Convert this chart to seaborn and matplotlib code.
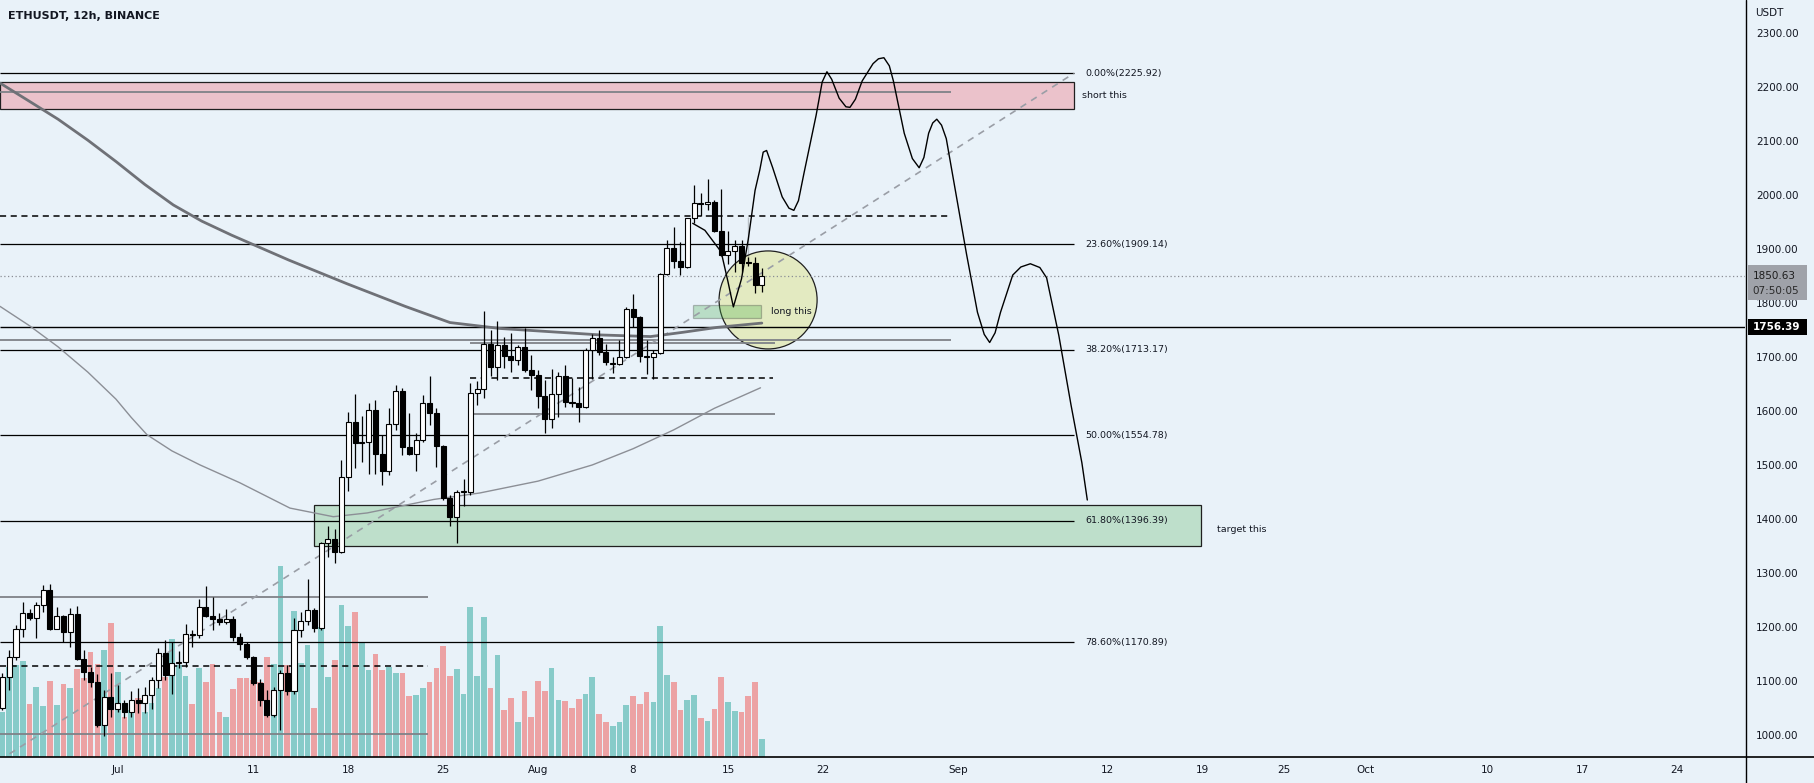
import numpy as np
import pandas as pd
import matplotlib
matplotlib.use("Agg")
import matplotlib.pyplot as plt
import matplotlib.dates as mdates
import matplotlib.transforms as mtransforms
from matplotlib.patches import Rectangle, Ellipse
from matplotlib.lines import Line2D
import seaborn as sns

sns.set_theme(style="white")
plt.rcParams["font.family"] = ["DejaVu Sans"]

# ---------------- data ----------------
title = "ETHUSDT, 12h, BINANCE"
first_candle = "2022-06-22 12:00"   # 12h candles
opens = [1049, 1107, 1143, 1195, 1225, 1216, 1241, 1269, 1196, 1220, 1191, 1224, 1141, 1117, 1098, 1017,
         1070, 1047, 1058, 1042, 1065, 1059, 1073, 1101, 1151, 1111, 1132, 1135, 1187, 1185, 1236, 1220,
         1214, 1209, 1215, 1181, 1168, 1143, 1095, 1065, 1036, 1083, 1114, 1080, 1194, 1210, 1231, 1197,
         1355, 1362, 1338, 1478, 1580, 1541, 1543, 1601, 1521, 1488, 1576, 1638, 1534, 1521, 1547, 1614,
         1597, 1535, 1438, 1404, 1449, 1450, 1634, 1640, 1724, 1681, 1722, 1702, 1694, 1718, 1676, 1667,
         1628, 1586, 1632, 1665, 1617, 1614, 1607, 1713, 1736, 1710, 1688, 1688, 1700, 1789, 1775, 1702,
         1700, 1708, 1854, 1903, 1879, 1867, 1957, 1985, 1983, 1988, 1934, 1889, 1897, 1906, 1875, 1875,
         1834]
highs = [1115, 1157, 1203, 1245, 1232, 1246, 1277, 1279, 1237, 1222, 1234, 1238, 1157, 1126, 1113, 1083,
         1115, 1092, 1064, 1080, 1086, 1089, 1107, 1160, 1175, 1172, 1155, 1205, 1194, 1252, 1276, 1256,
         1225, 1233, 1220, 1188, 1172, 1145, 1103, 1083, 1088, 1120, 1129, 1216, 1228, 1288, 1234, 1358,
         1386, 1381, 1509, 1599, 1631, 1590, 1614, 1620, 1556, 1605, 1648, 1642, 1596, 1559, 1630, 1665,
         1605, 1537, 1444, 1454, 1473, 1651, 1655, 1786, 1751, 1766, 1738, 1744, 1722, 1753, 1704, 1676,
         1657, 1677, 1673, 1685, 1662, 1645, 1716, 1743, 1750, 1724, 1701, 1732, 1793, 1817, 1777, 1732,
         1713, 1856, 1917, 1942, 1914, 1958, 2019, 2004, 2030, 1991, 2011, 1933, 1917, 1917, 1885, 1885,
         1865]
lows = [1045, 1083, 1138, 1181, 1212, 1180, 1228, 1194, 1196, 1172, 1163, 1138, 1102, 1088, 1015, 998,
        1033, 1042, 1030, 1033, 1040, 1040, 1047, 1086, 1101, 1076, 1123, 1126, 1163, 1180, 1218, 1194,
        1203, 1206, 1174, 1157, 1141, 1092, 1053, 1033, 1033, 1008, 1073, 1076, 1181, 1203, 1191, 1194,
        1330, 1319, 1336, 1451, 1494, 1506, 1484, 1484, 1463, 1481, 1565, 1518, 1518, 1488, 1543, 1574,
        1497, 1435, 1386, 1356, 1423, 1444, 1612, 1625, 1665, 1657, 1679, 1673, 1685, 1673, 1639, 1605,
        1560, 1568, 1589, 1608, 1608, 1580, 1605, 1660, 1704, 1685, 1671, 1685, 1698, 1756, 1691, 1669,
        1659, 1706, 1852, 1866, 1852, 1866, 1948, 1962, 1973, 1932, 1888, 1873, 1858, 1858, 1868, 1819,
        1821]
closes = [1107, 1143, 1195, 1225, 1216, 1241, 1269, 1196, 1220, 1191, 1224, 1141, 1117, 1098, 1017, 1070,
          1047, 1058, 1042, 1065, 1059, 1073, 1101, 1151, 1111, 1132, 1135, 1186, 1185, 1236, 1220, 1214,
          1209, 1215, 1181, 1168, 1143, 1095, 1065, 1036, 1083, 1114, 1080, 1194, 1210, 1231, 1197, 1355,
          1362, 1338, 1478, 1580, 1541, 1543, 1601, 1521, 1488, 1576, 1638, 1534, 1521, 1547, 1614, 1597,
          1535, 1438, 1404, 1449, 1450, 1634, 1640, 1724, 1681, 1722, 1702, 1694, 1718, 1676, 1667, 1628,
          1586, 1632, 1665, 1617, 1614, 1607, 1713, 1736, 1710, 1690, 1689, 1700, 1789, 1775, 1702, 1700,
          1708, 1854, 1903, 1879, 1867, 1957, 1985, 1983, 1988, 1934, 1889, 1897, 1906, 1875, 1874, 1834,
          1850.63]
volume = [45, 90, 92, 96, 53, 70, 51, 76, 52, 73, 69, 88, 79, 105, 93, 107,
          134, 85, 40, 47, 59, 45, 54, 69, 80, 118, 92, 81, 53, 89, 75, 93,
          45, 40, 68, 79, 79, 77, 75, 100, 93, 191, 92, 146, 94, 112, 49, 130,
          80, 97, 152, 131, 145, 114, 87, 103, 87, 90, 84, 84, 61, 62, 69, 75,
          89, 111, 81, 88, 63, 150, 81, 140, 69, 102, 47, 59, 35, 66, 40, 76,
          66, 89, 57, 56, 49, 58, 63, 80, 43, 35, 31, 35, 52, 61, 53, 65,
          55, 131, 82, 75, 47, 57, 62, 39, 36, 48, 80, 55, 46, 45, 61, 75,
          18]

anchor = "2022-07-01"   # offsets below are days from this date
ma_slow_days = [-8.68, -6.5, -4.4, -2.2, -0.1, 2.0, 4.1, 6.2, 8.4, 12.6, 16.9, 21.2, 24.5, 28.2, 31.9,
                35.6, 39.3, 41.7, 44.2, 47.5]
ma_slow = [2208, 2174, 2141, 2102, 2062, 2020, 1982, 1952, 1926, 1880, 1836, 1794, 1764, 1753, 1747,
           1741, 1738, 1746, 1755, 1763]
ma_fast_days = [-8.68, -6.5, -4.4, -2.2, -0.13, 1.0, 2.16, 4.0, 6.07, 9.0, 12.7, 15.9, 18.4, 23.3, 26.7,
                31.0, 35.0, 38.0, 41.0, 44.0, 47.4]
ma_fast = [1794, 1758, 1719, 1672, 1622, 1588, 1556, 1526, 1500, 1467, 1420, 1404, 1411, 1436, 1448,
           1470, 1500, 1530, 1565, 1605, 1643]

path_days = [42.4, 43.3, 44.5, 45.0, 45.4, 46.0, 46.5, 46.5, 47.0, 47.35, 47.6, 47.85, 48.3, 49.0, 49.5,
             49.86, 50.2, 50.6, 51.5, 51.95, 52.3, 52.65, 53.2, 53.7, 54.0, 54.4, 54.9, 55.7, 56.1, 56.5,
             56.9, 57.2, 58.0, 58.6, 59.1, 59.45, 59.8, 60.1, 60.4, 60.75, 61.1, 61.7, 62.6, 63.4, 63.9,
             64.3, 64.7, 65.1, 66.0, 66.6, 67.3, 68.0, 68.5, 69.4, 70.3, 71.1, 71.5]
path_prices = [1948, 1935, 1895, 1840, 1793, 1845, 1877, 1960, 2009, 2047, 2080, 2083, 2051, 1997, 1976,
               1972, 1990, 2040, 2148, 2210, 2229, 2215, 2180, 2164, 2163, 2178, 2212, 2244, 2253, 2255,
               2240, 2212, 2115, 2068, 2051, 2070, 2115, 2134, 2141, 2130, 2105, 2019, 1890, 1783, 1742,
               1727, 1745, 1783, 1852, 1867, 1873, 1866, 1847, 1740, 1611, 1504, 1435]

fib_levels = [0.0, 23.6, 38.2, 50.0, 61.8, 78.6]
fib_prices = [2225.92, 1909.14, 1713.17, 1554.78, 1396.39, 1170.89]
fib_low = 883.64
last_price = 1850.63
countdown = "07:50:05"
key_level = 1756.39

grey_levels = [2192, 1732, 1255, 1002, 1594, 1726]
grey_spans = [(-9, 61.45), (-9, 61.45), (-9, 22.9), (-9, 22.9), (26.2, 48.5), (25.98, 48.5)]
dashed_levels = [1961, 1128, 1661]
dashed_spans = [(-9, 61.45), (-9, 22.9), (25.98, 48.3)]

date_ticks = ["2022-07-01", "2022-07-11", "2022-07-18", "2022-07-25", "2022-08-01", "2022-08-08",
              "2022-08-15", "2022-08-22", "2022-09-01", "2022-09-12", "2022-09-19", "2022-09-25",
              "2022-10-01", "2022-10-10", "2022-10-17", "2022-10-24"]
date_labels = ["Jul", "11", "18", "25", "Aug", "8", "15", "22", "Sep", "12", "19", "25", "Oct", "10", "17", "24"]
price_ticks = list(range(1000, 2301, 100))

# ---------------- figure ----------------
W, H = 1814, 783
BG = "#e9f2f9"
TXT = "#131722"
fig = plt.figure(figsize=(W / 100, H / 100), dpi=100, facecolor=BG)
rect = [0, 26 / H, 1745 / W, 757 / H]
ax_vol = fig.add_axes(rect)
ax = fig.add_axes(rect)
ax_vol.set_facecolor(BG)
ax.patch.set_alpha(0)
ax.set_zorder(ax_vol.get_zorder() + 1)

a0 = mdates.date2num(pd.Timestamp(anchor).to_pydatetime())
def dx(d):
    return a0 + np.asarray(d, dtype=float)

times = pd.date_range(first_candle, periods=len(opens), freq="12h")
x = mdates.date2num(times.to_pydatetime())
o = np.array(opens, float); h = np.array(highs, float)
l = np.array(lows, float); c = np.array(closes, float)
up = c >= o

xlim = (dx(-8.68), dx(120.0))
ylim = (958.5, 2362)

# volume overlay
vcol = np.where(up, "#26a69a", "#ef5350")
ax_vol.bar(x, volume, width=0.42, color=vcol, alpha=0.5, linewidth=0)
ax_vol.set_xlim(xlim); ax_vol.set_ylim(0, 757)
ax_vol.axis("off")

# zones
ax.add_patch(Rectangle((xlim[0], 2160), dx(70.5) - xlim[0], 2209.5 - 2160, facecolor="#f23645",
                       alpha=0.25, edgecolor="none", zorder=1))
ax.add_patch(Rectangle((xlim[0], 2160), dx(70.5) - xlim[0], 2209.5 - 2160, facecolor="none",
                       edgecolor="#202020", lw=0.9, zorder=1.1))
ax.add_patch(Rectangle((dx(14.51), 1349), dx(79.9) - dx(14.51), 1425.7 - 1349, facecolor="#4caf50",
                       alpha=0.27, edgecolor="none", zorder=1))
ax.add_patch(Rectangle((dx(14.51), 1349), dx(79.9) - dx(14.51), 1425.7 - 1349, facecolor="none",
                       edgecolor="#202020", lw=0.9, zorder=1.1))
ax.add_patch(Ellipse((dx(47.96), 1805.9), 7.23, 181.7, facecolor="#dde27e", alpha=0.45,
                     edgecolor="none", zorder=1))
ax.add_patch(Ellipse((dx(47.96), 1805.9), 7.23, 181.7, facecolor="none", edgecolor="#202020",
                     lw=0.9, zorder=1.1))
ax.add_patch(Rectangle((dx(42.4), 1772), dx(47.45) - dx(42.4), 1796.6 - 1772, facecolor="#4caf50",
                       alpha=0.3, edgecolor="#303030", lw=0.9, zorder=1.2))

# fib levels
for lv, pr in zip(fib_levels, fib_prices):
    ax.hlines(pr, xlim[0], dx(70.5), color="black", lw=0.9, zorder=1.5)
    ax.text(dx(71.33), pr, f"{lv:.2f}%({pr:.2f})", fontsize=6.8, color=TXT, va="center", ha="left", zorder=5)
for pr, (s, e) in zip(grey_levels, grey_spans):
    ax.hlines(pr, max(dx(s), xlim[0]), dx(e), color="#7f8288", lw=1.3, zorder=1.5)
for pr, (s, e) in zip(dashed_levels, dashed_spans):
    ax.hlines(pr, max(dx(s), xlim[0]), dx(e), color="black", lw=1.1, linestyles=(0, (4, 3)), zorder=1.5)
ax.hlines(key_level, xlim[0], xlim[1], color="black", lw=1.0, zorder=1.5)
ax.hlines(last_price, xlim[0], xlim[1], color="#8a8d95", lw=0.9, linestyles=(0, (1, 2)), zorder=1.5)

# fib trend line (from low to 0% level)
fib_start = mdates.date2num(pd.Timestamp("2022-06-18").to_pydatetime())
ax.plot([fib_start, dx(70.5)], [fib_low, fib_prices[0]], color="#9a9ea6", lw=1.2,
        ls=(0, (4, 3.5)), zorder=1.6)

# moving averages (seaborn)
sns.lineplot(x=dx(ma_slow_days), y=ma_slow, ax=ax, color="#6f7177", lw=2.0, sort=False, zorder=1.7)
sns.lineplot(x=dx(ma_fast_days), y=ma_fast, ax=ax, color="#8c8f96", lw=1.0, sort=False, zorder=1.7)

# candles
ax.vlines(x, l, h, color="black", lw=0.9, zorder=3)
body_lo = np.minimum(o, c)
body_h = np.maximum(np.abs(c - o), 1.8)
ax.bar(x, body_h, bottom=body_lo, width=0.37, color=np.where(up, "white", "black"),
       edgecolor="black", linewidth=0.8, zorder=3.5)

# forecast path
sns.lineplot(x=dx(path_days), y=path_prices, ax=ax, color="black", lw=1.0, sort=False, zorder=4)

# labels on chart
ax.text(dx(71.1), 2185, "short this", fontsize=6.8, color=TXT, va="center", ha="left", zorder=5)
ax.text(dx(48.14), 1784, "long this", fontsize=6.8, color=TXT, va="center", ha="left", zorder=5)
ax.text(dx(81.07), 1381, "target this", fontsize=6.8, color=TXT, va="center", ha="left", zorder=5)

# axes formatting
ax.set_xlim(xlim); ax.set_ylim(ylim)
for sp in ax.spines.values():
    sp.set_visible(False)
ax.yaxis.tick_right()
ax.set_yticks(price_ticks)
ax.set_yticklabels([f"{p:.2f}" for p in price_ticks])
ax.tick_params(axis="y", length=0, pad=8, labelsize=7.5, labelcolor=TXT)
ax.set_xticks([mdates.date2num(pd.Timestamp(d).to_pydatetime()) for d in date_ticks])
ax.set_xticklabels(date_labels)
ax.tick_params(axis="x", length=0, pad=6, labelsize=7.5, labelcolor=TXT)
ax.grid(False)
ax.set_xlabel(""); ax.set_ylabel("")

# price labels on the scale
yb = mtransforms.blended_transform_factory(ax.transAxes, ax.transData)
ax.add_patch(Rectangle((1.0017, 1806), 0.0338, 65, transform=yb, facecolor="#9fa2a9",
                       edgecolor="none", clip_on=False, zorder=6))
ax.text(1.0045, last_price, f"{last_price:.2f}", transform=yb, fontsize=7.5, color="#1e1e1e",
        va="center", ha="left", clip_on=False, zorder=7)
ax.text(1.0045, 1822, countdown, transform=yb, fontsize=7.5, color="#2a2a2a",
        va="center", ha="left", clip_on=False, zorder=7)
ax.add_patch(Rectangle((1.0017, 1741.5), 0.0338, 29.5, transform=yb, facecolor="black",
                       edgecolor="none", clip_on=False, zorder=6))
ax.text(1.0045, key_level, f"{key_level:.2f}", transform=yb, fontsize=7.5, color="white",
        fontweight="bold", va="center", ha="left", clip_on=False, zorder=7)

# frame lines and headers
fig.add_artist(Line2D([1745.5 / W] * 2, [0, 1], transform=fig.transFigure, color="black", lw=1.0))
fig.add_artist(Line2D([0, 1], [26 / H] * 2, transform=fig.transFigure, color="black", lw=1.2))
fig.text(8 / W, 1 - 16 / H, title, fontsize=8, fontweight="bold", color=TXT, va="center", ha="left")
fig.text(1755 / W, 1 - 13 / H, "USDT", fontsize=7.5, color=TXT, va="center", ha="left")

fig.savefig("out.png", dpi=100, facecolor=BG)
